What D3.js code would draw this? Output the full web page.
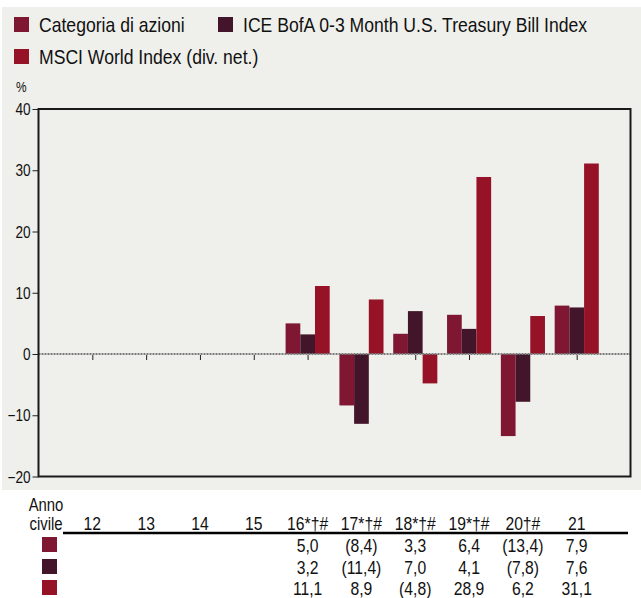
<!DOCTYPE html>
<html><head><meta charset="utf-8">
<script src="https://cdn.jsdelivr.net/npm/d3@7/dist/d3.min.js"></script>
<style>
html,body{margin:0;padding:0;background:#fff;}
svg{display:block;}
text{font-family:"Liberation Sans",Arial,sans-serif;fill:#111;}
</style></head>
<body>
<svg id="chart" width="641" height="598"></svg>
<script>
const categories = ["12","13","14","15","16","17","18","19","20","21"];
const tableLabels = ["12","13","14","15","16*†#","17*†#","18*†#","19*†#","20†#","21"];
const seriesNames = ["Categoria di azioni","ICE BofA 0-3 Month U.S. Treasury Bill Index","MSCI World Index (div. net.)"];
const colors = ["#7f1733","#43152a","#961226"];
const categoria = [null,null,null,null,5.0,-8.4,3.3,6.4,-13.4,7.9];
const iceBofa   = [null,null,null,null,3.2,-11.4,7.0,4.1,-7.8,7.6];
const msciWorld = [null,null,null,null,11.1,8.9,-4.8,28.9,6.2,31.1];
const series = [categoria, iceBofa, msciWorld];
const yTicks = [-20,-10,0,10,20,30,40];

const SX = 0.85;
const svg = d3.select("#chart");
svg.append("rect").attr("x",2).attr("y",7).attr("width",639).attr("height",483).attr("fill","#efefeb");

function ntext(parent, x, y, str, size, anchor){
  return parent.append("text")
    .attr("transform",`translate(${x},${y}) scale(${SX},1)`)
    .attr("text-anchor",anchor||"start")
    .attr("font-size",size).text(str);
}

const x = d3.scalePoint().domain(categories).range([38.5,630.5]).padding(1);
const y = d3.scaleLinear().domain([-20,40]).range([476.5,109]);

// legend
const legendPos = [[14,17],[218,17],[14,49]];
seriesNames.forEach((n,i)=>{
  const [lx,ly] = legendPos[i];
  svg.append("rect").attr("x",lx).attr("y",ly).attr("width",15).attr("height",15).attr("fill",colors[i]);
  ntext(svg, lx+25, ly+15, n, 20.7);
});
ntext(svg, 16, 92, "%", 14);

// y axis
const yAxis = d3.axisLeft(y).tickValues(yTicks).tickSize(6).tickPadding(3).tickFormat(d3.format("d"));
const gy = svg.append("g").attr("transform","translate(38.5,0)").call(yAxis);
gy.select(".domain").remove();
gy.selectAll(".tick line").attr("stroke","#222");
gy.selectAll(".tick text")
  .attr("x",null).attr("dy",null)
  .attr("transform",`translate(-8,5.5) scale(${SX},1)`)
  .attr("font-size",16).style("font-family",'"Liberation Sans",Arial,sans-serif').attr("fill","#111");

// bars
const bw = 14.7;
series.forEach((s,si)=>{
  svg.append("g").selectAll("rect").data(categories.map((c,i)=>({c,v:s[i]})).filter(d=>d.v!==null))
    .join("rect")
    .attr("x",d=>x(d.c)-22+si*bw)
    .attr("width",bw)
    .attr("y",d=>y(Math.max(0,d.v)))
    .attr("height",d=>Math.abs(y(d.v)-y(0)))
    .attr("fill",colors[si]);
});

// zero line
svg.append("line").attr("x1",38.5).attr("x2",630.5).attr("y1",y(0)).attr("y2",y(0))
  .attr("stroke","#7a7a7a").attr("stroke-width",2).attr("stroke-dasharray","2,1");
// category ticks
const xAxis = d3.axisBottom(x).tickSize(5).tickFormat("");
const gx = svg.append("g").attr("transform",`translate(0,${y(0)+1})`).call(xAxis);
gx.select(".domain").remove();
gx.selectAll(".tick line").attr("stroke","#222");

// frame
svg.append("rect").attr("x",38.5).attr("y",109).attr("width",592).attr("height",367.5)
  .attr("fill","none").attr("stroke","#1a1a1a").attr("stroke-width",2);

// table
ntext(svg, 46, 511, "Anno", 17.5, "middle");
ntext(svg, 46, 530, "civile", 17.5, "middle");
categories.forEach((c,i)=> ntext(svg, x(c), 530, tableLabels[i], 18.5, "middle"));
svg.append("line").attr("x1",63).attr("x2",628).attr("y1",533).attr("y2",533).attr("stroke","#000").attr("stroke-width",2.5);
const fmt = v => { const s = Math.abs(v).toFixed(1).replace(".",","); return v<0?`(${s})`:s; };
const rowY = [537,559,580];
series.forEach((s,si)=>{
  svg.append("rect").attr("x",42).attr("y",rowY[si]).attr("width",15).attr("height",15).attr("fill",colors[si]);
  categories.forEach((c,i)=>{
    if(s[i]!==null) ntext(svg, x(c), rowY[si]+15, fmt(s[i]), 18.5, "middle");
  });
});
</script>
</body></html>
